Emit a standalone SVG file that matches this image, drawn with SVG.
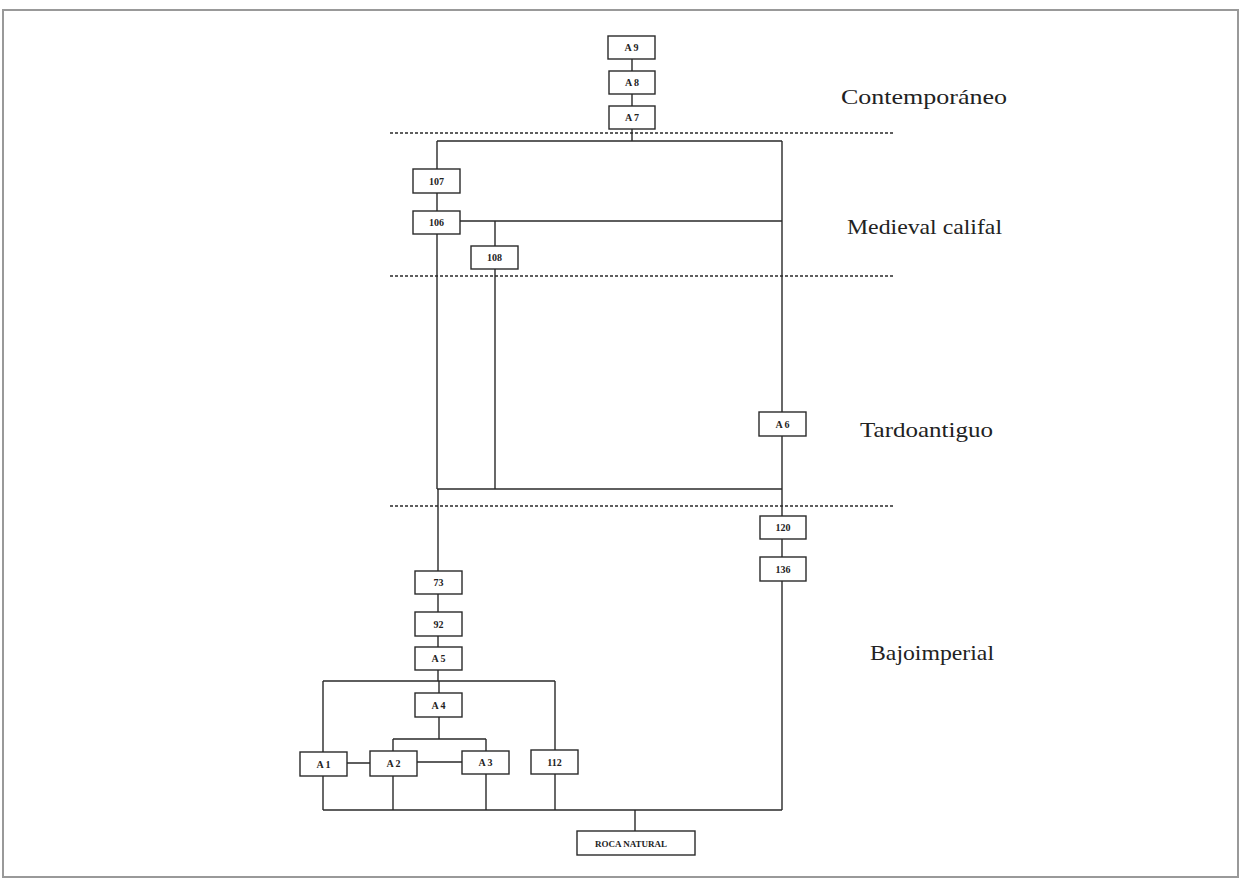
<svg xmlns="http://www.w3.org/2000/svg" width="1240" height="884" viewBox="0 0 1240 884">
<style>
.box{fill:#fff;stroke:#2a2a2a;stroke-width:1.4}
.bl{font-family:"Liberation Serif",serif;font-size:10px;fill:#222;text-anchor:middle;font-weight:bold}
.ln{stroke:#2a2a2a;stroke-width:1.4;fill:none}
.dot{stroke:#2a2a2a;stroke-width:1.4;stroke-dasharray:3 2;fill:none}
.per{font-family:"Liberation Serif",serif;font-size:22px;fill:#222}
</style>
<rect x="3" y="10" width="1235" height="867" fill="none" stroke="#999" stroke-width="2"/>
<g id="dividers">
<line class="dot" x1="390" y1="133" x2="895" y2="133"/>
<line class="dot" x1="390" y1="276" x2="895" y2="276"/>
<line class="dot" x1="390" y1="506" x2="895" y2="506"/>
</g>
<g id="periods">
<text class="per" x="841" y="104" textLength="166" lengthAdjust="spacingAndGlyphs">Contemporáneo</text>
<text class="per" x="847" y="234" textLength="155" lengthAdjust="spacingAndGlyphs">Medieval califal</text>
<text class="per" x="860" y="437" textLength="133" lengthAdjust="spacingAndGlyphs">Tardoantiguo</text>
<text class="per" x="870" y="660" textLength="124" lengthAdjust="spacingAndGlyphs">Bajoimperial</text>
</g>
<g id="connectors">
<path class="ln" d="M632 59V71M632 94V106M632 129V141M437 141H782"/>
<path class="ln" d="M437 141V169M437 193V211M437 234V489M460 221H782M495 221V246M495 269V489"/>
<path class="ln" d="M782 141V412M782 436V516M782 539V557M782 581V810"/>
<path class="ln" d="M437 489H782"/>
<path class="ln" d="M438 489V571M438 594V612M438 636V647M438 670V681M323 681H555"/>
<path class="ln" d="M439 681V693M439 717V739M393 739H486M393 739V751M486 739V751"/>
<path class="ln" d="M323 681V752M555 681V750M347 763H370M417 762H462"/>
<path class="ln" d="M323 776V810M393 776V810M486 774V810M555 774V810M323 810H782M635 810V831"/>
</g>
<g id="n-A9"><rect class="box" x="608" y="36" width="47" height="23"/><text class="bl" x="631.5" y="51">A 9</text></g>
<g id="n-A8"><rect class="box" x="609" y="71" width="46" height="23"/><text class="bl" x="632" y="86">A 8</text></g>
<g id="n-A7"><rect class="box" x="609" y="106" width="46" height="23"/><text class="bl" x="632" y="121">A 7</text></g>
<g id="n-107"><rect class="box" x="413" y="169" width="47" height="24"/><text class="bl" x="436.5" y="185">107</text></g>
<g id="n-106"><rect class="box" x="413" y="211" width="47" height="23"/><text class="bl" x="436.5" y="226">106</text></g>
<g id="n-108"><rect class="box" x="471" y="246" width="47" height="23"/><text class="bl" x="494.5" y="261">108</text></g>
<g id="n-A6"><rect class="box" x="759" y="412" width="47" height="24"/><text class="bl" x="782.5" y="428">A 6</text></g>
<g id="n-120"><rect class="box" x="760" y="516" width="46" height="23"/><text class="bl" x="783" y="531">120</text></g>
<g id="n-136"><rect class="box" x="760" y="557" width="46" height="24"/><text class="bl" x="783" y="573">136</text></g>
<g id="n-73"><rect class="box" x="415" y="571" width="47" height="23"/><text class="bl" x="438.5" y="586">73</text></g>
<g id="n-92"><rect class="box" x="415" y="612" width="47" height="24"/><text class="bl" x="438.5" y="628">92</text></g>
<g id="n-A5"><rect class="box" x="415" y="647" width="47" height="23"/><text class="bl" x="438.5" y="662">A 5</text></g>
<g id="n-A4"><rect class="box" x="415" y="693" width="47" height="24"/><text class="bl" x="438.5" y="709">A 4</text></g>
<g id="n-A1"><rect class="box" x="300" y="752" width="47" height="24"/><text class="bl" x="323.5" y="768">A 1</text></g>
<g id="n-A2"><rect class="box" x="370" y="751" width="47" height="25"/><text class="bl" x="393.5" y="767">A 2</text></g>
<g id="n-A3"><rect class="box" x="462" y="751" width="47" height="23"/><text class="bl" x="485.5" y="766">A 3</text></g>
<g id="n-112"><rect class="box" x="531" y="750" width="47" height="24"/><text class="bl" x="554.5" y="766">112</text></g>
<g id="n-roca"><rect class="box" x="577" y="831" width="118" height="24"/><text class="bl" x="631" y="847" style="font-size:9px">ROCA NATURAL</text></g>
</svg>
